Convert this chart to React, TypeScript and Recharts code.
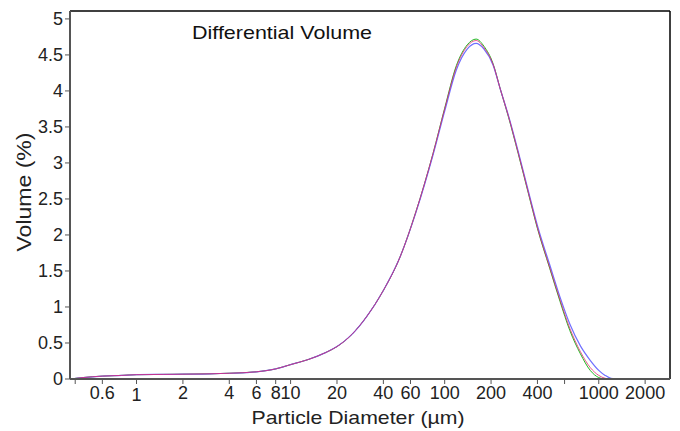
import React from 'react';
import { LineChart, Line, XAxis, YAxis, ReferenceLine } from 'recharts';

const sizes = [0.37, 0.45, 0.6, 0.8, 1, 1.5, 2, 3, 4, 6, 8, 10, 13, 17, 20, 25, 31, 40, 51, 65, 84, 100, 119, 140, 160, 180, 206, 230, 260, 300, 350, 400, 480, 560, 650, 760, 880, 1000, 1100, 1200, 1350, 1600, 2500];
const redVals = [0.0, 0.02, 0.04, 0.05, 0.06, 0.064, 0.067, 0.072, 0.08, 0.1, 0.14, 0.2, 0.27, 0.37, 0.45, 0.62, 0.86, 1.23, 1.68, 2.32, 3.13, 3.75, 4.33, 4.62, 4.7, 4.6, 4.37, 4.02, 3.64, 3.14, 2.58, 2.1, 1.55, 1.1, 0.7, 0.38, 0.16, 0.05, 0.01, 0, 0, 0, 0];
const greenVals = [0.0, 0.02, 0.04, 0.05, 0.06, 0.064, 0.067, 0.072, 0.08, 0.1, 0.14, 0.2, 0.27, 0.37, 0.45, 0.62, 0.86, 1.23, 1.68, 2.32, 3.13, 3.76, 4.35, 4.64, 4.72, 4.62, 4.38, 4.02, 3.63, 3.13, 2.57, 2.09, 1.54, 1.08, 0.67, 0.35, 0.12, 0.02, 0.0, 0, 0, 0, 0];
const blueVals = [0.0, 0.02, 0.04, 0.05, 0.06, 0.064, 0.067, 0.072, 0.08, 0.1, 0.14, 0.2, 0.27, 0.37, 0.45, 0.62, 0.86, 1.23, 1.68, 2.31, 3.11, 3.72, 4.29, 4.58, 4.66, 4.58, 4.36, 4.02, 3.65, 3.16, 2.6, 2.13, 1.59, 1.14, 0.76, 0.46, 0.26, 0.12, 0.05, 0.01, 0, 0, 0];
const xTicks = [0.4, 0.6, 1, 2, 4, 6, 8, 10, 20, 40, 60, 100, 200, 400, 600, 1000, 2000];
const xTickLabels = ['', '0.6', '1', '2', '4', '6', '8', '10', '20', '40', '60', '100', '200', '400', '', '1000', '2000'];
const yTicks = [0, 0.5, 1, 1.5, 2, 2.5, 3, 3.5, 4, 4.5, 5];

const data = sizes.map((d, i) => ({ d, red: redVals[i], green: greenVals[i], blue: blueVals[i] }));

const X_MIN = 0.37;
const X_MAX = 2900;
const Y_MAX = 5.11;

const FONT = '"Liberation Sans", Arial, sans-serif';
const TICK_FONT = '"Liberation Sans Narrow", "Liberation Sans", Arial, sans-serif';

const XTick = (props: any) => {
  const { x, y, payload } = props;
  const idx = xTicks.indexOf(payload.value);
  const label = idx >= 0 ? xTickLabels[idx] : '';
  const extra = payload.value === 1 ? 2 : 0;
  return (
    <text x={x} y={y + extra} dy="0.71em" textAnchor="middle" fill="#222" fontSize={18} fontFamily={TICK_FONT}>
      {label}
    </text>
  );
};

export default function App() {
  return (
    <div style={{ position: 'absolute', left: 0, top: 0, background: '#fff' }}>
      <LineChart width={680} height={431} data={data} margin={{ top: 11, right: 10, left: 0, bottom: 0 }}>
        <XAxis
          dataKey="d"
          type="number"
          scale="log"
          domain={[X_MIN, X_MAX]}
          allowDataOverflow
          ticks={xTicks}
          interval={0}
          height={52}
          axisLine={{ stroke: '#555', strokeWidth: 2 }}
          tickLine={{ stroke: '#555' }}
          tickSize={5}
          tickMargin={2}
          tick={<XTick />}
        />
        <YAxis
          domain={[0, Y_MAX]}
          ticks={yTicks}
          interval={0}
          width={70}
          axisLine={{ stroke: '#555', strokeWidth: 2 }}
          tickLine={{ stroke: '#555' }}
          tickSize={5}
          tickMargin={2}
          allowDataOverflow
          tick={{ fill: '#222', fontSize: 18, fontFamily: TICK_FONT }}
        />
        <ReferenceLine y={Y_MAX} stroke="#000" strokeWidth={1.5} />
        <ReferenceLine x={X_MAX} stroke="#000" strokeWidth={1.5} />
        <Line dataKey="green" type="monotone" stroke="#22b822" strokeWidth={1} dot={false} isAnimationActive={false} />
        <Line dataKey="blue" type="monotone" stroke="#6f6fff" strokeWidth={1.2} dot={false} isAnimationActive={false} />
        <Line dataKey="red" type="monotone" stroke="#e0206a" strokeWidth={1} strokeOpacity={0.75} dot={false} isAnimationActive={false} />
        <text x={192} y={39} fontSize={19} fontFamily={FONT} fill="#111" textLength={180} lengthAdjust="spacingAndGlyphs">Differential Volume</text>
        <text x={358} y={424} fontSize={19} fontFamily={FONT} fill="#222" textAnchor="middle" textLength={213} lengthAdjust="spacingAndGlyphs">Particle Diameter (µm)</text>
        <text x={31} y={192} fontSize={20} fontFamily={FONT} fill="#222" textAnchor="middle" transform="rotate(-90 31 192)" textLength={119} lengthAdjust="spacingAndGlyphs">Volume (%)</text>
      </LineChart>
    </div>
  );
}
